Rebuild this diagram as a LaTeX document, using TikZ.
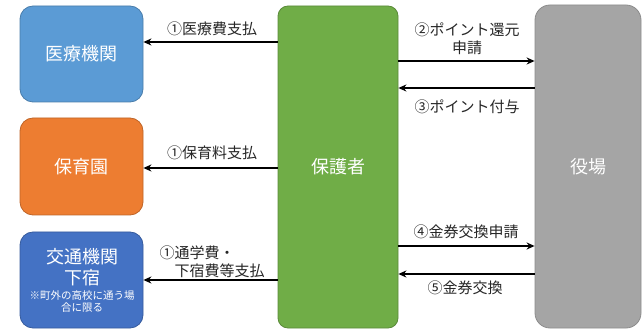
\documentclass[tikz,border=0pt]{standalone}
\usepackage{fontspec}
\setmainfont{Noto Sans CJK JP}
\usetikzlibrary{arrows.meta}
\definecolor{medblue}{HTML}{5B9BD5}
\definecolor{medorange}{HTML}{ED7D31}
\definecolor{darkblue}{HTML}{4472C4}
\definecolor{medgreen}{HTML}{70AD47}
\definecolor{medgray}{HTML}{A5A5A5}
\tikzset{
  box/.style={rounded corners=13pt, line width=0.8pt, text=white, font=\fontsize{18}{21}\selectfont, align=center, inner sep=0pt},
  wtxt/.style={text=white, font=\fontsize{18}{21}\selectfont, inner sep=0pt},
  note/.style={text=white, font=\fontsize{10.5}{12}\selectfont, inner sep=0pt},
  arr/.style={line width=2.6pt, -{Stealth[length=8pt,width=7pt]}},
  lbl/.style={font=\fontsize{15}{18}\selectfont, align=center, inner sep=0pt, text=black!85},
}
\begin{document}
\begin{tikzpicture}[x=1pt,y=-1pt]
\useasboundingbox (0,0) rectangle (643,331);
\node[box, fill=medblue, draw=medblue!80!black, minimum width=123pt, minimum height=96pt] (iryo) at (81.5,54) {医療機関};
\node[box, fill=medorange, draw=medorange!80!black, minimum width=123pt, minimum height=97pt] (hoiku) at (81.5,166.5) {保育園};
\node[box, fill=darkblue, draw=darkblue!80!black, minimum width=123pt, minimum height=96pt] (kotsu) at (81.5,280) {};
\node[wtxt] (kotsu1) at (82,257) {交通機関};
\node[wtxt] (kotsu2) at (82,278) {下宿};
\node[note] (note1) at (82,296) {※町外の高校に通う場};
\node[note] (note2) at (82,307.5) {合に限る};
\node[box, rounded corners=10pt, fill=medgreen, draw=medgreen!80!black, minimum width=120pt, minimum height=322pt] (hogo) at (338,167) {保護者};
\node[box, rounded corners=15pt, fill=medgray, draw=medgray!85!black, minimum width=106pt, minimum height=323pt] (yaku) at (588,166.5) {役場};
\coordinate (y1) at (0,42);
\coordinate (y2) at (0,168);
\coordinate (y3) at (0,280);
\coordinate (y4) at (0,61);
\coordinate (y5) at (0,88);
\coordinate (y6) at (0,246);
\coordinate (y7) at (0,274);
\draw[arr] (hogo.west |- y1) -- (iryo.east |- y1);
\draw[arr] (hogo.west |- y2) -- (hoiku.east |- y2);
\draw[arr] (hogo.west |- y3) -- (kotsu.east |- y3);
\draw[arr] (hogo.east |- y4) -- (yaku.west |- y4);
\draw[arr] (yaku.west |- y5) -- (hogo.east |- y5);
\draw[arr] (hogo.east |- y6) -- (yaku.west |- y6);
\draw[arr] (yaku.west |- y7) -- (hogo.east |- y7);
\node[lbl] (l1) at (212,29) {①医療費支払};
\node[lbl] (l2) at (212,153) {①保育料支払};
\node[lbl, align=left] (l3) at (212,261.5) {①通学費・\\\hspace*{1em}下宿費等支払};
\node[lbl] (l4) at (467,38.5) {②ポイント還元\\申請};
\node[lbl] (l5) at (467,107) {③ポイント付与};
\node[lbl] (l6) at (466,232) {④金券交換申請};
\node[lbl] (l7) at (465,288) {⑤金券交換};
\end{tikzpicture}
\end{document}
